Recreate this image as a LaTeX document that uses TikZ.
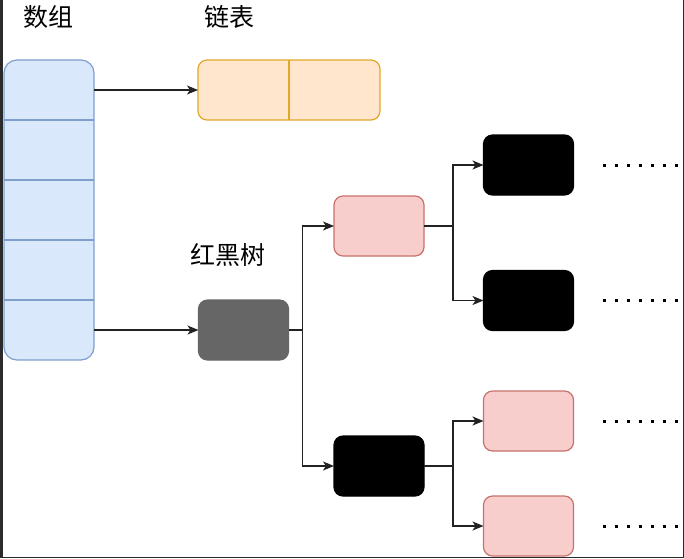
\documentclass[tikz,border=0pt]{standalone}
\usepackage{fontspec}
\newfontfamily\cjk{Noto Sans CJK SC}
\usetikzlibrary{arrows.meta}
\definecolor{arrfill}{HTML}{DAE8FC}
\definecolor{arrdraw}{HTML}{7E9FCC}
\definecolor{llfill}{HTML}{FFE6CC}
\definecolor{lldraw}{HTML}{E0A829}
\definecolor{rfill}{HTML}{F8CECC}
\definecolor{rdraw}{HTML}{C8716C}
\definecolor{gfill}{HTML}{666666}
\definecolor{edgecol}{HTML}{222222}
\definecolor{framecol}{HTML}{2B2B2B}
\begin{document}
\begin{tikzpicture}[x=1pt,y=-1pt,
  box/.style={rounded corners=9pt, line width=1.2pt, minimum width=90pt, minimum height=60pt, inner sep=0pt, outer sep=0pt},
  rednode/.style={box, fill=rfill, draw=rdraw},
  blacknode/.style={box, fill=black, draw=black},
  greynode/.style={box, fill=gfill, draw=gfill},
  conn/.style={line width=1.2pt, draw=edgecol, -{Stealth[length=11pt,width=9pt,inset=3pt]}},
  dots/.style={line width=3pt, draw=black, dash pattern=on 3pt off 9pt},
  lbl/.style={font=\cjk\fontsize{25}{30}\selectfont, inner sep=0pt}
]
\useasboundingbox (0,0) rectangle (684,558);
\fill[white] (0,0) rectangle (684,558);
% window frame
\fill[framecol] (0,0) rectangle (3,558);
\fill[framecol] (0,556.6) rectangle (684,558);
\fill[framecol] (682.6,0) rectangle (684,558);

% labels
\node[lbl] (tarr) at (48,17) {数组};
\node[lbl] (tll) at (229,17) {链表};
\node[lbl] (trb) at (228,255) {红黑树};

% array
\node[box, rounded corners=13pt, fill=arrfill, draw=arrdraw, minimum width=90pt, minimum height=300pt] (arr) at (49,210) {};
\foreach \yy in {120,180,240,300}
  \draw[arrdraw, line width=1.2pt] (arr.west |- 0,\yy) -- (arr.east |- 0,\yy);

% linked list
\node[box, fill=llfill, draw=lldraw, minimum width=182pt] (ll) at (289,90) {};
\draw[lldraw, line width=1.2pt] (ll.north) -- (ll.south);

% tree
\node[greynode] (root) at (243.5,330) {};
\node[rednode] (r1) at (379,226) {};
\node[blacknode] (b1) at (379,466) {};
\node[blacknode] (n1) at (528.5,165) {};
\node[blacknode] (n2) at (528.5,300.5) {};
\node[rednode] (n3) at (528.5,421) {};
\node[rednode] (n4) at (528.5,526) {};

% connectors
\draw[conn] (arr.east |- ll.west) -- (ll.west);
\draw[conn] (arr.east |- root.west) -- (root.west);
\draw[conn] (root.east) -- ++(14,0) |- (r1.west);
\draw[conn] (root.east) -- ++(14,0) |- (b1.west);
\draw[conn] (r1.east) -- ++(29,0) |- (n1.west);
\draw[conn] (r1.east) -- ++(29,0) |- (n2.west);
\draw[conn] (b1.east) -- ++(29,0) |- (n3.west);
\draw[conn] (b1.east) -- ++(29,0) |- (n4.west);

% continuation dots
\foreach \n in {n1,n2,n3,n4}
  \draw[dots] ([xshift=29pt]\n.east) -- ([xshift=106pt]\n.east);
\end{tikzpicture}
\end{document}
